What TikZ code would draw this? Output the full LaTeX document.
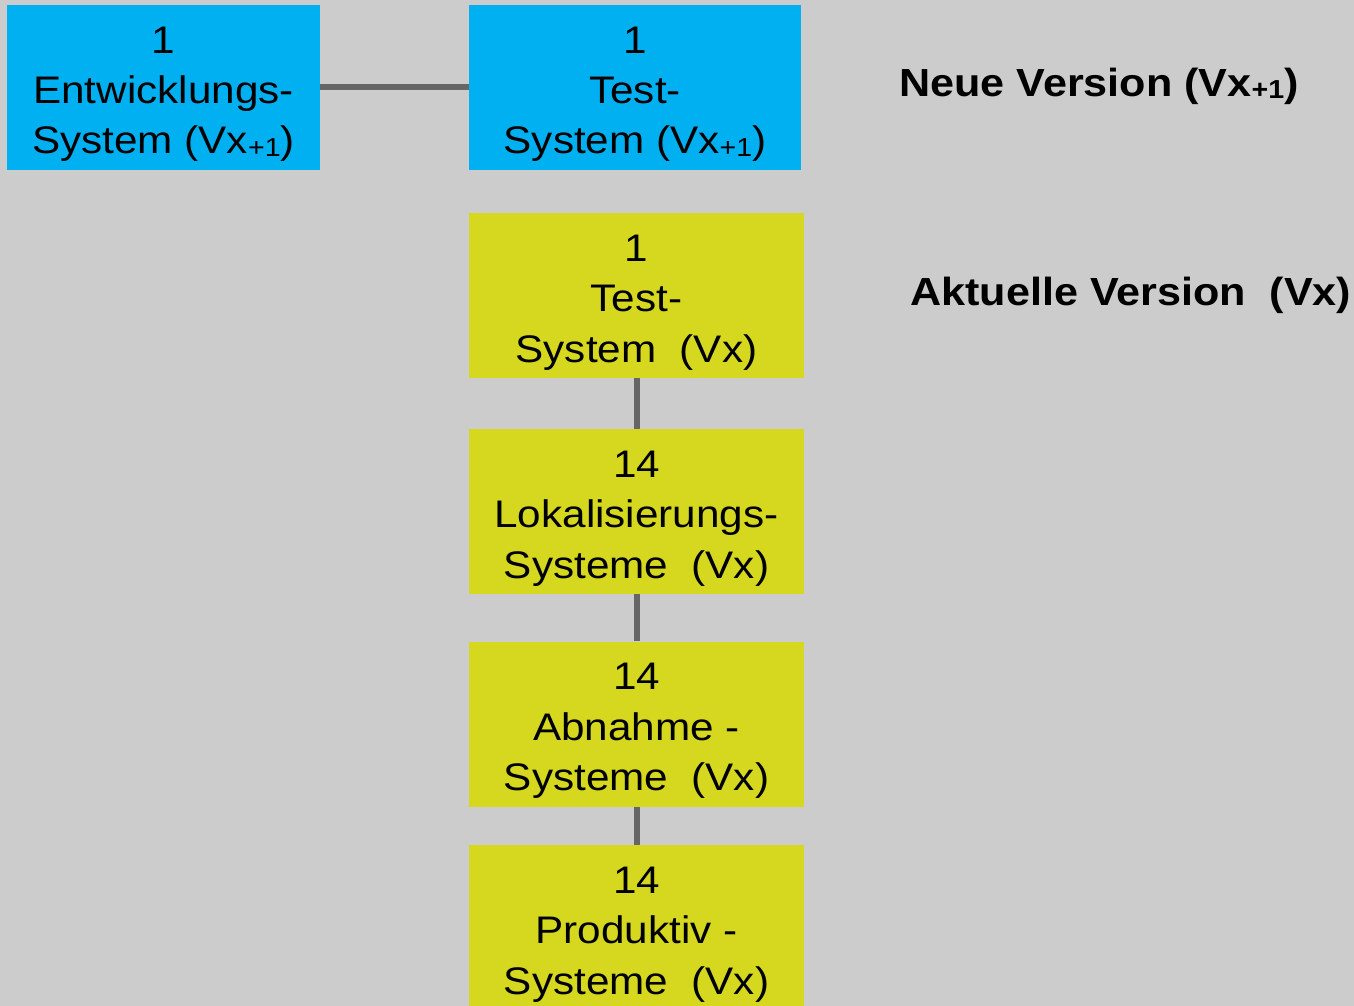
\documentclass[tikz,border=0pt]{standalone}
\usepackage{fontspec}
\setmainfont{Liberation Sans}[FakeStretch=1.1]
\usepackage{xcolor}
\usetikzlibrary{calc}
\definecolor{SlideGray}{HTML}{CCCCCC}
\definecolor{NewBlue}{HTML}{00B0F0}
\definecolor{OldYellow}{HTML}{D5D81E}
\definecolor{LinkGray}{HTML}{666666}
\newcommand{\vsub}[1]{\raisebox{-1pt}{\fontsize{13}{13}\selectfont #1}}
\tikzset{sysbox/.style={draw=none, inner sep=0, align=center, minimum height=82.5pt,
    text height=70.5pt, text depth=4pt, font=\fontsize{19.2}{25.25}\selectfont}}
\tikzset{new box/.style={sysbox, fill=NewBlue}}
\tikzset{old box/.style={sysbox, fill=OldYellow, minimum width=167.5pt}}
\tikzset{version/.style={anchor=base west, inner sep=0, font=\fontsize{19.6}{25.25}\selectfont\bfseries}}
\tikzset{link/.style={draw=LinkGray, line width=3pt}}

\begin{document}
\begin{tikzpicture}[x=0.5pt, y=-0.5pt]
  \fill[SlideGray] (0,0) rectangle (1354,1006);
  \useasboundingbox (0,0) rectangle (1354,1006);

  \node[new box, minimum width=156.5pt] at (163.5, 87.5) (dev) {1\\Entwicklungs-\\System (Vx\vsub{+1})};
  \node[new box, minimum width=166pt] at (635, 87.5) (testnew) {1\\Test-\\System (Vx\vsub{+1})};

  \node[old box] at (636.5, 295.5) (test) {1\\Test-\\System\ \ (Vx)};
  \node[old box] at (636.5, 511.5) (loc) {14\\Lokalisierungs-\\Systeme\ \ (Vx)};
  \node[old box] at (636.5, 724) (acc) {14\\Abnahme -\\Systeme\ \ (Vx)};
  \node[old box] at (636.5, 927.5) (prod) {14\\Produktiv -\\Systeme\ \ (Vx)};

  \node[version] at (899, 97) (neu) {Neue Version (Vx\vsub{+1})};
  \node[version] at (910, 305) (akt) {Aktuelle Version\ \ (Vx)};

    \draw[link] (dev) -- (testnew);
    \draw[link] (test) -- (loc);
    \draw[link] (loc) -- (acc);
    \draw[link] (acc) -- (prod);
\end{tikzpicture}
\end{document}
